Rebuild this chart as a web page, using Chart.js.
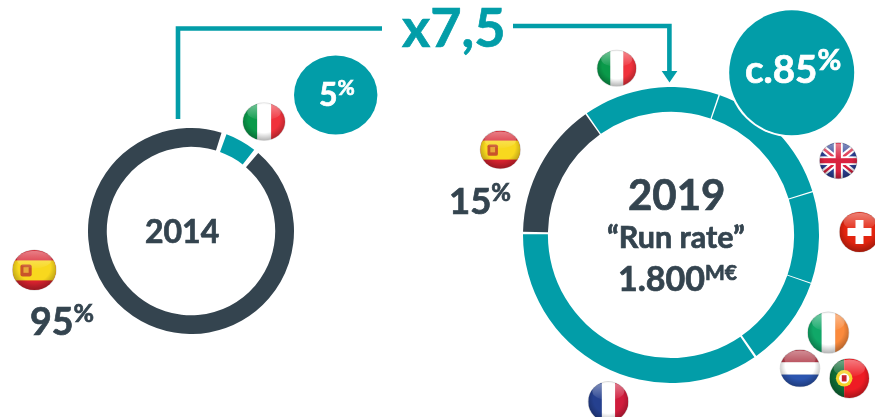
<!DOCTYPE html>
<html><head><meta charset="utf-8">
<style>
html,body{margin:0;padding:0;background:#fff;overflow:hidden}
#stage{position:relative;width:875px;height:417px;overflow:hidden}
canvas{position:absolute}
svg{position:absolute;left:0;top:0}
text{font-family:Lato,"Open Sans",sans-serif;font-weight:700;stroke-width:.7px;paint-order:stroke}
</style>
<script src="https://cdn.jsdelivr.net/npm/chart.js@4"></script>
</head><body>
<div id="stage">
<canvas id="c2014" width="206" height="206" style="left:88px;top:127.5px"></canvas>
<canvas id="c2019" width="296" height="296" style="left:523px;top:87px"></canvas>
<svg id="ov" width="875" height="417" xmlns="http://www.w3.org/2000/svg"></svg>
</div>
<script>
const TEAL='#029DA8', DARK='#34444F';
const labels2014=['Italia','España'];
const values2014=[5,95];
const labels2019=['Italia','Reino Unido','Suiza','Irlanda / Países Bajos / Portugal','Francia','España'];
const values2019=[15,15,10,10,35,15];
const colors2014=[TEAL,DARK];
const colors2019=[TEAL,TEAL,TEAL,TEAL,TEAL,DARK];

function ring(id,labels,values,colors,rotation,cutout,gap){
  new Chart(document.getElementById(id),{
    type:'doughnut',
    data:{labels,datasets:[{data:values,backgroundColor:colors,borderWidth:0,spacing:gap}]},
    options:{responsive:false,animation:false,rotation,cutout,
      layout:{padding:0},
      plugins:{legend:{display:false},tooltip:{enabled:false}}}
  });
}
ring('c2014',labels2014,values2014,colors2014,20,'81.5%',3);
ring('c2019',labels2019,values2019,colors2019,-35,'83%',3);

const flagArt={
 it:'<rect width="34" height="100" fill="#0a9a4a"/><rect x="34" width="33" height="100" fill="#fff"/><rect x="67" width="33" height="100" fill="#f0323c"/>',
 es:'<rect width="100" height="100" fill="#d8222f"/><rect y="26" width="100" height="50" fill="#f8d81e"/><rect x="18" y="36" width="26" height="30" rx="5" fill="#c9532a"/><rect x="25" y="43" width="12" height="14" fill="#e8a83a"/>',
 uk:'<rect width="100" height="100" fill="#2b3f93"/><path d="M0 8L100 92M100 8L0 92" stroke="#fff" stroke-width="18"/><path d="M0 8L100 92M100 8L0 92" stroke="#d9223f" stroke-width="7"/><rect x="38" width="24" height="100" fill="#fff"/><rect y="38" width="100" height="24" fill="#fff"/><rect x="43" width="14" height="100" fill="#d9223f"/><rect y="43" width="100" height="14" fill="#d9223f"/>',
 ch:'<rect width="100" height="100" fill="#e2240f"/><rect x="40" y="20" width="20" height="60" fill="#fff"/><rect x="20" y="40" width="60" height="20" fill="#fff"/>',
 ie:'<rect width="34" height="100" fill="#10a868"/><rect x="34" width="33" height="100" fill="#fff"/><rect x="67" width="33" height="100" fill="#fb8a3c"/>',
 nl:'<rect width="100" height="34" fill="#b03a48"/><rect y="34" width="100" height="33" fill="#fff"/><rect y="67" width="100" height="33" fill="#2c55b0"/>',
 pt:'<rect width="37" height="100" fill="#0e6b35"/><rect x="37" width="63" height="100" fill="#ee1c24"/><circle cx="37" cy="50" r="21" fill="#f6d32a"/><circle cx="37" cy="50" r="13" fill="#fff"/><rect x="31" y="42" width="12" height="16" fill="#c8202c"/>',
 fr:'<rect width="34" height="100" fill="#25408f"/><rect x="34" width="33" height="100" fill="#fff"/><rect x="67" width="33" height="100" fill="#d01c3c"/>'
};
const flags=[['es',34.3,270,21.7,20],['it',264,121.7,21,18.7],['it',616.7,68.3,19.5,18],['es',500.3,149.7,20,19],
 ['uk',838.3,160.7,18.7,18],['ch',859.5,232,20,20],['ie',828.3,332.7,20.5,20.5],['nl',800,368.3,19.7,18.5],['pt',849.3,378.3,19.7,19.7],['fr',608.3,401.7,20,20]];

let s='<defs><clipPath id="fc"><circle cx="50" cy="50" r="50"/></clipPath>'+
 '<radialGradient id="sh" cx=".5" cy=".42" r=".6"><stop offset=".62" stop-color="#000" stop-opacity="0"/><stop offset="1" stop-color="#000" stop-opacity=".32"/></radialGradient>'+
 '<linearGradient id="gl" x1="0" y1="0" x2="0" y2="1"><stop offset="0" stop-color="#fff" stop-opacity=".42"/><stop offset="1" stop-color="#fff" stop-opacity=".04"/></linearGradient></defs>';

s+=`<path d="M178 119V28.5H382" fill="none" stroke="${TEAL}" stroke-width="4.6"/>`;
s+=`<path d="M513 26H669.4V74" fill="none" stroke="${TEAL}" stroke-width="4.6"/>`;
s+=`<path d="M661.7 71H677.4L669.5 82.5Z" fill="${TEAL}"/>`;
s+=`<ellipse cx="335.7" cy="95" rx="41.7" ry="39.6" fill="${TEAL}"/>`;
s+=`<circle cx="791.7" cy="72.7" r="64.5" fill="#fff"/><circle cx="791.7" cy="72.7" r="62.5" fill="${TEAL}"/>`;
for(const [k,cx,cy,rx,ry] of flags){
  s+=`<g transform="translate(${cx-rx} ${cy-ry}) scale(${rx/50} ${ry/50})"><circle cx="50" cy="50" r="51.5" fill="#d8d8d8"/>`+
     `<g clip-path="url(#fc)">${flagArt[k]}<rect width="100" height="100" fill="url(#sh)"/>`+
     `<ellipse cx="50" cy="24" rx="40" ry="22" fill="url(#gl)"/></g></g>`;
}
function t(x,y,size,fill,main,sup,supSize,dy){
  let out=`<text x="${x}" y="${y}" font-size="${size}" fill="${fill}" stroke="${fill}">${main}`;
  if(sup) out+=`<tspan font-size="${supSize}" dy="${dy}">${sup}</tspan>`;
  return out+'</text>';
}
s+=t(402,47,54,TEAL,'x7,5');
s+=t(145,243,32,DARK,'2014');
s+=t(30,334.5,37.5,DARK,'95','%',25,-13);
s+=t(319,106,32,'#fff','5','%',21,-11);
s+=t(628,210,42,DARK,'2019');
s+=t(607,247.5,30.5,DARK,'“Run rate”');
s+=t(618,291,34,DARK,'1.800','M€',21,-11);
s+=t(745,83,38.5,'#fff','c.85','%',29,-13);
s+=t(449,214,36.5,DARK,'15','%',24,-13);
document.getElementById('ov').innerHTML=s;
</script>
</body></html>
